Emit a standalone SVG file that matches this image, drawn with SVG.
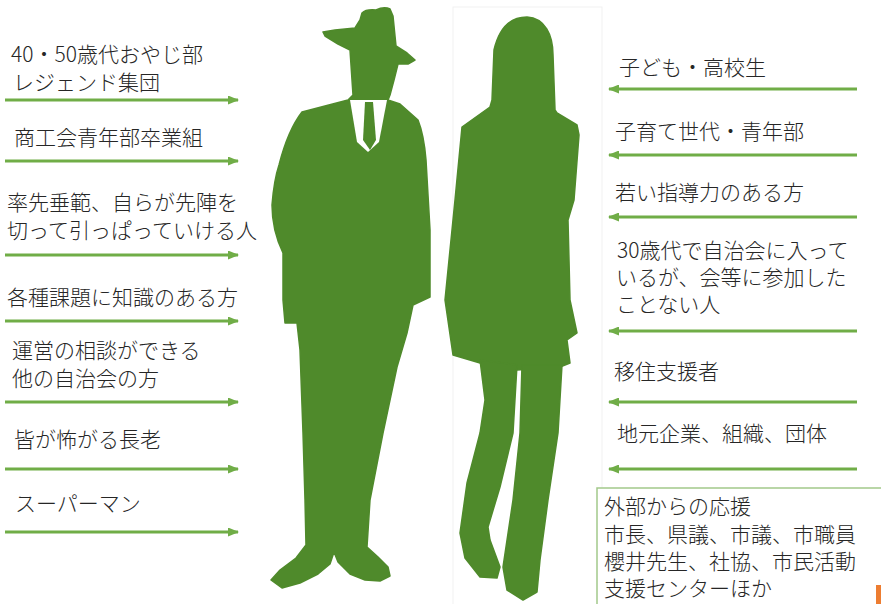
<svg xmlns="http://www.w3.org/2000/svg" width="881" height="604" viewBox="0 0 881 604">
  <style>
    .lbl { font-family: "Noto Sans CJK JP", "Noto Sans", sans-serif; font-size: 21px; font-weight: 300; fill: #262626; }
    .fig { fill: #4f8a2b; stroke: #4f8a2b; stroke-width: 1.5; stroke-linejoin: round; }
    .arrow { stroke: #70ad47; stroke-width: 3; fill: none; marker-end: url(#head); }
    .frame { fill: none; stroke: #f1f1f1; stroke-width: 1; }
  </style>
  <defs>
    <marker id="head" viewBox="0 0 11 9" refX="10" refY="4.5" markerUnits="userSpaceOnUse" markerWidth="11" markerHeight="9" orient="auto">
      <path d="M0,0 L11,4.5 L0,9 z" fill="#70ad47"/>
    </marker>
  </defs>

  <rect width="881" height="604" fill="#ffffff"/>

  <!-- faint frame of the woman picture -->
  <rect class="frame" x="453" y="7" width="149" height="600"/>

  <!-- man silhouette -->
  <g id="man">
    <path class="fig" d="M362,13 Q366,9 376,10 Q384,6 390,9 L393,16 L396,46 L407,53 L415,60 L408,64 L398,64
      L394,80 L390,95 L388,100 L400,104 L418,120 Q424,135 426,160 L430,230 L430,297
      L413,305 L407,333 L397,367 L383,433 L370,500 L367,547 L378,557 L388,567 L390,576
      L380,581 L365,580 L350,574 L338,562 L334,552 L330,564 L318,574 L300,583 L282,588
      L271,580 L280,570 L296,558 L306,545 L305,500 L303,433 L300,350 L297,323 L285,323
      L283,300 L283,253 Q272,230 272,205 Q274,180 279,165 Q288,130 302,112 L348,100
      L353,95 L352,80 L350,50 L338,44 L325,36 L323,32 L335,30 L355,28 L360,20 Z"/>
    <!-- shirt and tie -->
    <path d="M350,100 L387,100 L379,142 L368,152 L357,142 Z" fill="#ffffff"/>
    <path d="M365,102 L373,102 L376,140 L370,150 L363,140 Z" fill="#4f8a2b"/>
  </g>

  <!-- woman silhouette -->
  <g id="woman">
    <path class="fig" d="M527,17 C545,18 553,35 553,55 L555,110 L557,113 L577,125 L579,135
      L574,200 L568,220 L570,300 L577,333 L567,340 L570,363 L560,367 L517,370 L480,363
      L453,355 L445,300 L450,250 L455,200 L462,127 L490,107 L492,100 L494,50
      C500,25 512,17 527,17 Z"/>
    <path class="fig" d="M480,360 L485,400 L480,433 L467,483 L460,533 L465,558 L480,577
      L497,578 L500,567 L490,540 L488,527 L500,487 L513,433 L517,365 Z"/>
    <path class="fig" d="M522,365 L520,433 L513,500 L503,567 L507,590 L523,600 L537,592
      L540,560 L548,500 L558,433 L562,365 Z"/>
  </g>

  <!-- left column labels -->
  <g id="n-oyaji">
    <text class="lbl" x="11" y="62">40・50歳代おやじ部</text>
    <text class="lbl" x="13" y="90">レジェンド集団</text>
  </g>
  <g id="n-shokokai"><text class="lbl" x="14" y="145">商工会青年部卒業組</text></g>
  <g id="n-sossen">
    <text class="lbl" x="7" y="210">率先垂範、自らが先陣を</text>
    <text class="lbl" x="7" y="238">切って引っぱっていける人</text>
  </g>
  <g id="n-chishiki"><text class="lbl" x="7" y="305">各種課題に知識のある方</text></g>
  <g id="n-soudan">
    <text class="lbl" x="12" y="358">運営の相談ができる</text>
    <text class="lbl" x="12" y="386">他の自治会の方</text>
  </g>
  <g id="n-choro"><text class="lbl" x="14" y="447">皆が怖がる長老</text></g>
  <g id="n-superman"><text class="lbl" x="15" y="511">スーパーマン</text></g>

  <!-- right column labels -->
  <g id="n-kodomo"><text class="lbl" x="619" y="75">子ども・高校生</text></g>
  <g id="n-kosodate"><text class="lbl" x="615" y="139">子育て世代・青年部</text></g>
  <g id="n-wakai"><text class="lbl" x="615" y="200">若い指導力のある方</text></g>
  <g id="n-30dai">
    <text class="lbl" x="617" y="258">30歳代で自治会に入って</text>
    <text class="lbl" x="616" y="285">いるが、会等に参加した</text>
    <text class="lbl" x="616" y="312">ことない人</text>
  </g>
  <g id="n-iju"><text class="lbl" x="614" y="379">移住支援者</text></g>
  <g id="n-jimoto"><text class="lbl" x="617" y="441">地元企業、組織、団体</text></g>
  <g id="n-gaibu">
    <rect x="597" y="488" width="300" height="130" fill="#ffffff" stroke="#a3c98a" stroke-width="1.5"/>
    <text class="lbl" x="604" y="514">外部からの応援</text>
    <text class="lbl" x="604" y="542">市長、県議、市議、市職員</text>
    <text class="lbl" x="604" y="569">櫻井先生、社協、市民活動</text>
    <text class="lbl" x="604" y="596">支援センターほか</text>
  </g>

  <!-- connectors -->
  <g id="connectors">
    <line class="arrow" x1="5" y1="100" x2="238" y2="100"/>
    <line class="arrow" x1="5" y1="161" x2="238" y2="161"/>
    <line class="arrow" x1="5" y1="255" x2="238" y2="255"/>
    <line class="arrow" x1="5" y1="321" x2="238" y2="321"/>
    <line class="arrow" x1="5" y1="402" x2="238" y2="402"/>
    <line class="arrow" x1="5" y1="469" x2="238" y2="469"/>
    <line class="arrow" x1="5" y1="532" x2="238" y2="532"/>

    <line class="arrow" x1="857" y1="89" x2="609" y2="89"/>
    <line class="arrow" x1="857" y1="155" x2="609" y2="155"/>
    <line class="arrow" x1="857" y1="217" x2="609" y2="217"/>
    <line class="arrow" x1="857" y1="331" x2="609" y2="331"/>
    <line class="arrow" x1="857" y1="402" x2="609" y2="402"/>
    <line class="arrow" x1="857" y1="469" x2="609" y2="469"/>
  </g>

  <!-- orange edge mark -->
  <rect x="876" y="585" width="5" height="19" fill="#ed7d31"/>
</svg>
